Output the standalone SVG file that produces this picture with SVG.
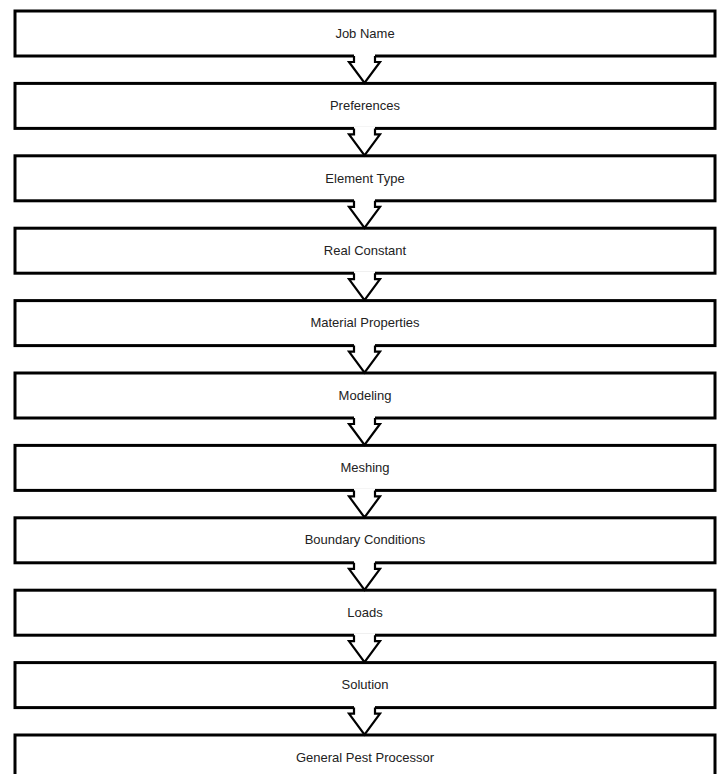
<svg xmlns="http://www.w3.org/2000/svg" width="721" height="774" viewBox="0 0 721 774">
<style>
.box{fill:#fff;stroke:#000;stroke-width:3}
.lbl{font-family:"Liberation Sans",Arial,sans-serif;font-size:13px;fill:#222;text-anchor:middle}
.arr{fill:#fff;stroke:#000;stroke-width:2.2;stroke-linejoin:miter}
.gap{fill:#fff;stroke:none}
</style>
<rect width="721" height="774" fill="#fff"/>
<g id="n0"><rect class="box" x="15" y="11" width="700" height="45"/><text class="lbl" x="365" y="37.5">Job Name</text></g>
<g id="n1"><rect class="box" x="15" y="83.4" width="700" height="45"/><text class="lbl" x="365" y="110">Preferences</text></g>
<g id="n2"><rect class="box" x="15" y="155.8" width="700" height="45"/><text class="lbl" x="365" y="182.5">Element Type</text></g>
<g id="n3"><rect class="box" x="15" y="228.2" width="700" height="45"/><text class="lbl" x="365" y="254.8">Real Constant</text></g>
<g id="n4"><rect class="box" x="15" y="300.6" width="700" height="45"/><text class="lbl" x="365" y="327.2">Material Properties</text></g>
<g id="n5"><rect class="box" x="15" y="373" width="700" height="45"/><text class="lbl" x="365" y="399.6">Modeling</text></g>
<g id="n6"><rect class="box" x="15" y="445.4" width="700" height="45"/><text class="lbl" x="365" y="472">Meshing</text></g>
<g id="n7"><rect class="box" x="15" y="517.8" width="700" height="45"/><text class="lbl" x="365" y="544.4">Boundary Conditions</text></g>
<g id="n8"><rect class="box" x="15" y="590.2" width="700" height="45"/><text class="lbl" x="365" y="616.8">Loads</text></g>
<g id="n9"><rect class="box" x="15" y="662.6" width="700" height="45"/><text class="lbl" x="365" y="689.2">Solution</text></g>
<g id="n10"><rect class="box" x="15" y="735" width="700" height="60"/><text class="lbl" x="365" y="761.6">General Pest Processor</text></g>
<g id="connectors">
<defs>
<g id="a">
<rect class="gap" x="354" y="-2" width="21" height="6"/>
<path class="arr" d="M354,0 L354,6 L349,6 L364.5,27 L380,6 L375,6 L375,0"/>
</g>
</defs>
<use href="#a" y="56"/>
<use href="#a" y="128.4"/>
<use href="#a" y="200.8"/>
<use href="#a" y="273.2"/>
<use href="#a" y="345.6"/>
<use href="#a" y="418"/>
<use href="#a" y="490.4"/>
<use href="#a" y="562.8"/>
<use href="#a" y="635.2"/>
<use href="#a" y="707.6"/>
</g>
</svg>
